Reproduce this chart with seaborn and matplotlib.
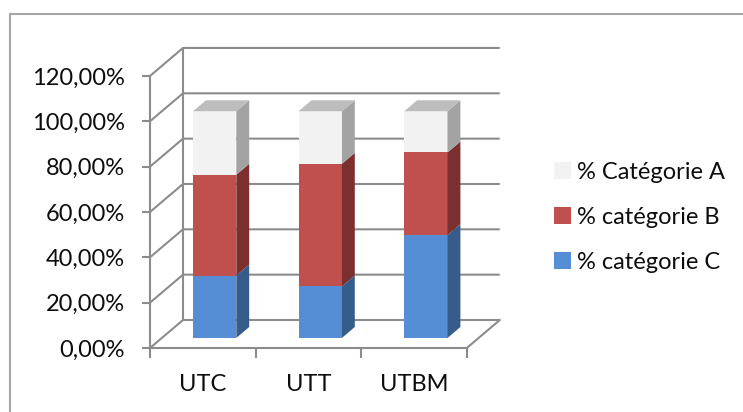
import numpy as np
import pandas as pd
import matplotlib
matplotlib.use("Agg")
import matplotlib.pyplot as plt
import seaborn as sns
from matplotlib.patches import Polygon, Patch
from matplotlib.lines import Line2D
from matplotlib.ticker import FuncFormatter, FixedLocator

# ---------------- data ----------------
categories = ["UTC", "UTT", "UTBM"]
cat_a = [28.0, 23.2, 18.2]   # % Catégorie A (top, light grey)
cat_b = [44.5, 54.1, 36.4]   # % catégorie B (middle, red)
cat_c = [27.5, 22.7, 45.4]   # % catégorie C (bottom, blue)
series_labels = ["% Catégorie A", "% catégorie B", "% catégorie C"]
y_ticks = [0, 20, 40, 60, 80, 100, 120]

# ---------------- style ----------------
sns.set_theme(style="white")
plt.rcParams["font.family"] = ["Lato", "DejaVu Sans"]

front_cols = {"A": "#F2F2F2", "B": "#C0504D", "C": "#558ED5"}
side_cols = {"A": "#A3A3A3", "B": "#7B2F2E", "C": "#365C8B"}
top_col = "#BDBDBD"
grid_col = "#8C8C8C"
text_col = "#0D0D0D"
FS = 17

W_PX, H_PX = 743, 412
fig = plt.figure(figsize=(W_PX / 100, H_PX / 100), dpi=100)
ax = fig.add_axes([0, 0, 1, 1])
ax.patch.set_alpha(0)

# pixel geometry of the plotting frame
x0_px, cat_px = 150.0, 105.6
y0_px, pct_px = 348.0, 2.267
DX, DY = 33.0 / cat_px, 28.0 / pct_px          # full depth of the 3D box
f_front, f_depth = 0.36, 0.39                     # bar position / depth inside the box
bar_w = 0.41

n = len(categories)
xs = np.arange(n)
a = np.array(cat_a); b = np.array(cat_b); c = np.array(cat_c)
cum_c = c
cum_b = c + b
cum_a = c + b + a

# ---------------- back walls / gridlines ----------------
xl, xr = -0.5, n - 0.5
for v in y_ticks:
    ax.plot([xl, xl + DX, xr + DX], [v, v + DY, v + DY], color=grid_col, lw=1.5,
            zorder=1, solid_capstyle="butt")
ax.plot([xl + DX, xl + DX], [DY, y_ticks[-1] + DY], color=grid_col, lw=1.5, zorder=1)
ax.plot([xr, xr + DX], [0, DY], color=grid_col, lw=1.5, zorder=1)

# ---------------- bars (front faces with seaborn) ----------------
ox, oy = f_front * DX, f_front * DY
ddx, ddy = f_depth * DX, f_depth * DY
for key, cum in [("A", cum_a), ("B", cum_b), ("C", cum_c)]:
    before = len(ax.patches)
    df = pd.DataFrame({"cat": categories, "val": cum})
    sns.barplot(data=df, x="cat", y="val", color=front_cols[key], saturation=1,
                width=bar_w, errorbar=None, ax=ax, linewidth=0, zorder=3)
    for p in ax.patches[before:]:
        p.set_x(p.get_x() + ox)
        p.set_y(p.get_y() + oy)
        p.set_zorder(3)

# side and top faces computed from the data
segments = [("C", np.zeros(n), cum_c), ("B", cum_c, cum_b), ("A", cum_b, cum_a)]
for i in range(n):
    xr_bar = xs[i] + bar_w / 2 + ox
    xl_bar = xs[i] - bar_w / 2 + ox
    for key, lo, hi in segments:
        y_lo, y_hi = lo[i] + oy, hi[i] + oy
        ax.add_patch(Polygon([(xr_bar, y_lo), (xr_bar + ddx, y_lo + ddy),
                              (xr_bar + ddx, y_hi + ddy), (xr_bar, y_hi)],
                             closed=True, facecolor=side_cols[key], edgecolor="none", zorder=4))
    y_top = cum_a[i] + oy
    ax.add_patch(Polygon([(xl_bar, y_top), (xl_bar + ddx, y_top + ddy),
                          (xr_bar + ddx, y_top + ddy), (xr_bar, y_top)],
                         closed=True, facecolor=top_col, edgecolor="none", zorder=4))

# ---------------- axes ----------------
ax.set_xlim(-0.5 - x0_px / cat_px, -0.5 + (W_PX - x0_px) / cat_px)
ax.set_ylim(-(H_PX - y0_px) / pct_px, y0_px / pct_px)

for s in ["top", "right"]:
    ax.spines[s].set_visible(False)
ax.spines["left"].set_position(("data", xl))
ax.spines["left"].set_bounds(0, y_ticks[-1])
ax.spines["bottom"].set_position(("data", 0))
ax.spines["bottom"].set_bounds(xl, xr)
for s in ["left", "bottom"]:
    ax.spines[s].set_color(grid_col)
    ax.spines[s].set_linewidth(1.5)
    ax.spines[s].set_zorder(2)

ax.yaxis.set_major_locator(FixedLocator(y_ticks))
ax.yaxis.set_major_formatter(FuncFormatter(lambda v, p: f"{v:.2f}%".replace(".", ",")))
ax.tick_params(axis="y", which="major", direction="out", length=6, width=1.5,
               color=grid_col, labelcolor=text_col, labelsize=FS, pad=12, left=True)

ax.set_xticks(np.arange(n + 1) - 0.5)
ax.set_xticklabels([""] * (n + 1))
ax.set_xticks(xs, minor=True)
ax.set_xticklabels(categories, minor=True)
ax.tick_params(axis="x", which="major", direction="out", length=7, width=1.5,
               color=grid_col, bottom=True)
ax.tick_params(axis="x", which="minor", length=0, labelsize=FS, labelcolor=text_col,
               pad=19, bottom=True)
ax.set_xlabel("")
ax.set_ylabel("")

# ---------------- legend ----------------
handles = [Patch(facecolor=front_cols[k], edgecolor="none") for k in ["A", "B", "C"]]
fig.legend(handles, series_labels, loc="upper left",
           bbox_to_anchor=(554 / W_PX, 1 - 162 / H_PX), bbox_transform=fig.transFigure,
           frameon=False, fontsize=FS, handlelength=0.72, handleheight=0.72,
           handletextpad=0.25, labelspacing=1.02, borderpad=0, borderaxespad=0,
           labelcolor=text_col)

# ---------------- outer frame ----------------
fx, fy = 10 / W_PX, 1 - 14 / H_PX
fig.add_artist(Line2D([fx, 1.0], [fy, fy], color="#A6A6A6", lw=1.5, transform=fig.transFigure))
fig.add_artist(Line2D([fx, fx], [fy, 0.0], color="#A6A6A6", lw=1.5, transform=fig.transFigure))

fig.savefig("out.png", dpi=100)
